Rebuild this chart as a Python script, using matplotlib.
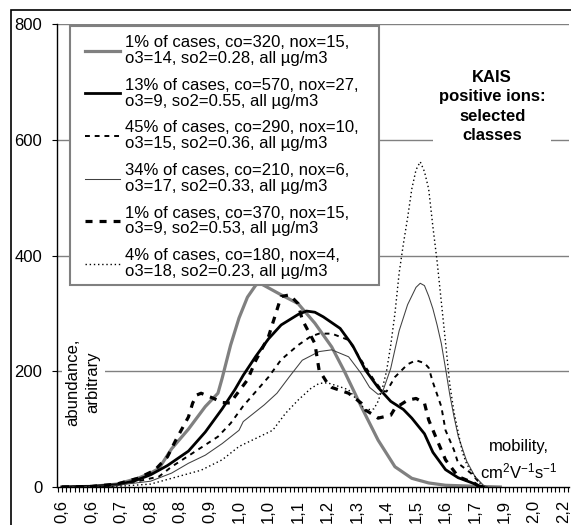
import numpy as np
import matplotlib
matplotlib.use("Agg")
import matplotlib.pyplot as plt
from matplotlib.patches import Rectangle

plt.rcParams['font.family'] = ['Liberation Sans', 'DejaVu Sans']
plt.rcParams['mathtext.fontset'] = 'custom'
plt.rcParams['mathtext.rm'] = 'Liberation Sans'
plt.rcParams['mathtext.default'] = 'rm'

# mobility channel labels (every 7th channel)
tick_labels = ['0,6', '0,6', '0,7', '0,8', '0,8', '0,9', '1,0', '1,0', '1,1',
               '1,2', '1,3', '1,4', '1,5', '1,6', '1,7', '1,9', '2,0', '2,2']

# 1% of cases, co=320
c1_x = [0, 7, 13, 18, 21, 23, 26, 30, 34, 37, 38, 40, 42, 44, 46, 47, 49, 52, 56,
        60, 64, 67, 71, 75, 79, 83, 87, 91, 99, 104]
c1_y = [0, 1, 5, 15, 24, 32, 66, 100, 139, 162, 188, 245, 292, 328, 349, 352, 344,
        332, 317, 283, 242, 200, 139, 81, 35, 15, 7, 3, 1, 0]
# 13% of cases, co=570
c2_x = [0, 7, 13, 17, 21, 25, 30, 34, 38, 41, 43, 46, 49, 52, 56, 58, 60, 62, 66,
        69, 72, 75, 78, 81, 83, 86, 88, 91, 94, 97, 99, 100]
c2_y = [0, 1, 4, 10, 21, 37, 62, 95, 135, 168, 193, 226, 256, 280, 298, 304, 302,
        294, 274, 244, 202, 172, 148, 134, 119, 92, 60, 30, 16, 8, 2, 0]
# 45% of cases, co=290
c3_x = [0, 7, 13, 18, 23, 26, 33, 37, 40, 43, 46, 49, 52, 56, 59, 61, 64, 68, 71,
        74, 76, 77, 79, 82, 84, 86, 87, 88, 90, 91, 93, 94, 97, 99, 100]
c3_y = [0, 1, 3, 10, 18, 35, 68, 87, 110, 140, 165, 190, 220, 245, 260, 265, 265,
        254, 219, 185, 166, 165, 190, 212, 219, 214, 206, 181, 139, 98, 64, 41, 24,
        8, 0]
# 34% of cases, co=210
c4_x = [0, 7, 13, 21, 26, 30, 34, 38, 42, 43, 48, 51, 54, 57, 61, 64, 68, 71, 73,
        75, 76, 78, 80, 82, 84, 85, 86, 87, 88, 89, 90, 91, 92, 93, 94, 96, 98, 100,
        101]
c4_y = [0, 1, 3, 10, 24, 41, 55, 75, 98, 113, 142, 162, 191, 219, 234, 237, 225,
        196, 172, 160, 163, 205, 270, 315, 345, 352, 348, 330, 308, 280, 248, 205,
        160, 122, 88, 45, 18, 3, 0]
# 1% of cases, co=370
c5_x = [0, 7, 13, 18, 22, 25, 27, 30, 31, 32, 33, 36, 38, 40, 41, 44, 46, 49, 51,
        52, 54, 56, 57, 60, 61, 63, 64, 68, 71, 72, 74, 75, 78, 79, 82, 84, 86, 87,
        89, 91, 94, 98, 99]
c5_y = [0, 1, 5, 15, 29, 52, 81, 121, 145, 159, 162, 153, 146, 145, 156, 185, 219,
        260, 306, 329, 332, 317, 289, 248, 202, 179, 172, 162, 145, 133, 124, 119,
        124, 136, 150, 153, 145, 116, 81, 47, 18, 6, 0]
# 4% of cases, co=180
c6_x = [0, 13, 21, 26, 33, 38, 42, 46, 50, 53, 56, 59, 61, 63, 66, 68, 70, 72, 74,
        75, 76, 77, 78, 79, 80, 81, 82, 83, 84, 85, 86, 87, 88, 89, 90, 91, 92, 93,
        94, 95, 96, 97, 98, 99, 100]
c6_y = [0, 1, 5, 15, 29, 47, 70, 84, 98, 127, 150, 170, 179, 180, 173, 168, 150,
        133, 135, 148, 170, 200, 245, 300, 370, 420, 465, 515, 548, 562, 545, 515,
        450, 390, 320, 250, 178, 130, 95, 60, 40, 28, 18, 8, 0]

legend_labels = [
    '1% of cases, co=320, nox=15,\no3=14, so2=0.28, all µg/m3',
    '13% of cases, co=570, nox=27,\no3=9, so2=0.55, all µg/m3',
    '45% of cases, co=290, nox=10,\no3=15, so2=0.36, all µg/m3',
    '34% of cases, co=210, nox=6,\no3=17, so2=0.33, all µg/m3',
    '1% of cases, co=370, nox=15,\no3=9, so2=0.53, all µg/m3',
    '4% of cases, co=180, nox=4,\no3=18, so2=0.23, all µg/m3',
]

fig = plt.figure(figsize=(5.71, 5.25), dpi=100)
ax = fig.add_axes([57 / 571, 38 / 525, 512 / 571, 463 / 525])

ax.plot(c1_x, c1_y, color='#808080', lw=2.3, label=legend_labels[0])
ax.plot(c2_x, c2_y, color='black', lw=2.0, label=legend_labels[1])
ax.plot(c3_x, c3_y, color='black', lw=1.4, linestyle=(0, (2.5, 2.5)), label=legend_labels[2])
ax.plot(c4_x, c4_y, color='#404040', lw=0.75, label=legend_labels[3])
ax.plot(c5_x, c5_y, color='black', lw=2.3, linestyle=(0, (2.2, 2.2)), label=legend_labels[4])
ax.plot(c6_x, c6_y, color='black', lw=1.0, linestyle=(0, (1, 2)), label=legend_labels[5])

ax.set_xlim(-1.19, 120.3)
ax.set_ylim(0, 800)
ax.set_xticks(np.arange(0, 7 * len(tick_labels), 7))
ax.set_xticklabels(tick_labels, rotation=90, fontsize=12)
ax.set_xticks(np.arange(-1, 121), minor=True)
ax.tick_params(axis='x', which='both', direction='out', length=3.5, width=0.8, pad=6)
ax.set_yticks([0, 200, 400, 600, 800])
ax.tick_params(axis='y', direction='out', length=3.6, width=0.8, pad=7, labelsize=12)

for v in [200, 400, 600, 800]:
    ax.axhline(v, color='#808080', lw=1.0, zorder=0)

for s in ['top', 'right']:
    ax.spines[s].set_visible(False)
ax.spines['left'].set_linewidth(1.0)
ax.spines['bottom'].set_linewidth(1.0)

# legend frame drawn separately so the padding can match the original
ax.add_patch(Rectangle((13 / 512, 202 / 463), 309 / 512, 259 / 463, transform=ax.transAxes,
                       facecolor='white', edgecolor='#808080', lw=1.5, zorder=4))
leg = ax.legend(loc='upper left', bbox_to_anchor=(28 / 512, 452 / 463), borderaxespad=0,
                fontsize=12, frameon=False, handlelength=2.1, handletextpad=0.3,
                borderpad=0, labelspacing=0.7)
leg.set_zorder(5)
for t in leg.get_texts():
    t.set_linespacing(1.08)

ax.text(0.051, 0.227, 'abundance,\narbitrary', transform=ax.transAxes, rotation=90,
        ha='center', va='center', multialignment='center', fontsize=12, linespacing=1.4,
        bbox=dict(facecolor='white', edgecolor='none', pad=3))
ax.text(0.850, 0.822, 'KAIS\npositive ions:\nselected\nclasses', transform=ax.transAxes,
        ha='center', va='center', multialignment='center', fontsize=12,
        fontweight='bold', linespacing=1.35,
        bbox=dict(facecolor='white', edgecolor='none', pad=4))
ax.text(0.902, 0.058, 'mobility,\ncm$^2$V$^{-1}$s$^{-1}$', transform=ax.transAxes,
        ha='center', va='center', multialignment='center', fontsize=12, linespacing=1.4)

fig.patches.append(Rectangle((11 / 571, -0.1), 1.5, 0.981 + 0.1, transform=fig.transFigure,
                             fill=False, edgecolor='black', lw=1.2))

fig.savefig('out.png', dpi=100)
